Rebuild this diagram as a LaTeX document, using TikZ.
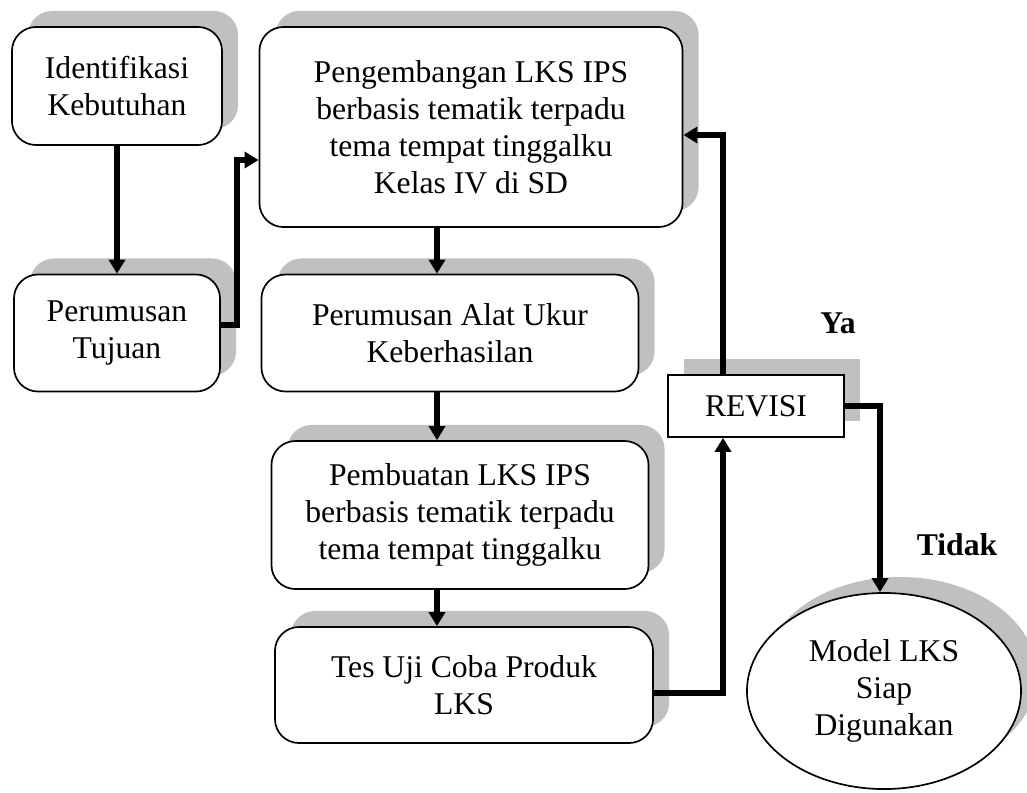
\documentclass[tikz,border=0pt]{standalone}
\usepackage{fontspec}
\setmainfont{Liberation Serif}
\usetikzlibrary{arrows.meta}
\usetikzlibrary{shapes.geometric}
\usetikzlibrary{shadows}
\definecolor{bayang}{RGB}{192,192,192}

\begin{document}
\begin{tikzpicture}[x=0.025cm,y=-0.025cm,>={Triangle[length=3.5mm,width=4mm]},
    font=\fontsize{22.5}{26.3}\selectfont,
    bayangan/.style={drop shadow={shadow xshift=0.4cm,shadow yshift=0.4cm,fill=bayang,opacity=1}},
    proses/.style={draw,line width=1.2pt,rounded corners=0.6cm,fill=white,align=center,inner sep=0pt,bayangan},
    panah/.style={->,line width=3.6pt}]
                        \useasboundingbox (0,0) rectangle (1027,792);
                        % kolom kiri
                        \node[proses,minimum width=5.25cm,minimum height=2.95cm] (ident) at (117,86) {Identifikasi\\Kebutuhan};
                        \node[proses,minimum width=5.15cm,minimum height=2.925cm] (tujuan) at (117,333) {Perumusan\\Tujuan};
                        % kolom tengah
                        \node[proses,minimum width=10.575cm,minimum height=5cm] (kembang) at (471,127)
                            {Pengembangan LKS IPS\\berbasis tematik terpadu\\tema tempat tinggalku\\Kelas IV di SD};
                        \node[proses,minimum width=9.425cm,minimum height=2.925cm] (alatukur) at (450,333) {Perumusan Alat Ukur\\Keberhasilan};
                        \node[proses,minimum width=9.425cm,minimum height=3.7cm] (buat) at (460,515)
                            {Pembuatan LKS IPS\\berbasis tematik terpadu\\tema tempat tinggalku};
                        \node[proses,minimum width=9.45cm,minimum height=2.9cm] (tesuji) at (464,685) {Tes Uji Coba Produk\\LKS};
                        % kolom kanan
                        \node[draw,line width=1.2pt,fill=white,bayangan,minimum width=4.4cm,minimum height=1.55cm] (revisi) at (756,406) {REVISI};
                        \node[ellipse,draw,line width=1.2pt,fill=white,bayangan,align=center,inner sep=0pt,
                            minimum width=6.85cm,minimum height=4.9cm] (siap) at (884,691) {Model LKS\\Siap\\Digunakan};
                        \node[font=\fontsize{22.5}{26.3}\selectfont\bfseries] (ya) at (838,323) {Ya};
                        \node[font=\fontsize{22.5}{26.3}\selectfont\bfseries] (tidak) at (957,545) {Tidak};
                        % panah
                        \coordinate (tengah) at (437,0);
                        \coordinate (kanan) at (723,0);
                        \coordinate (belok) at (237,160);
                        \draw[panah] (ident) -- (tujuan);
                        \draw[panah] ([yshift=2mm]tujuan.east) -| (belok) -- (belok -| kembang.west);
                        \draw[panah] (kembang.south -| tengah) -- (alatukur.north -| tengah);
                        \draw[panah] (alatukur.south -| tengah) -- (buat.north -| tengah);
                        \draw[panah] (buat.south -| tengah) -- (tesuji.north -| tengah);
                        \draw[panah] ([yshift=-2mm]tesuji.east) -| (revisi.south -| kanan);
                        \draw[panah] (revisi.north -| kanan) |- ([yshift=-2mm]kembang.east);
                        \draw[panah] (revisi.east) -| ([xshift=-1mm]siap.north);
                    \end{tikzpicture}
\end{document}
